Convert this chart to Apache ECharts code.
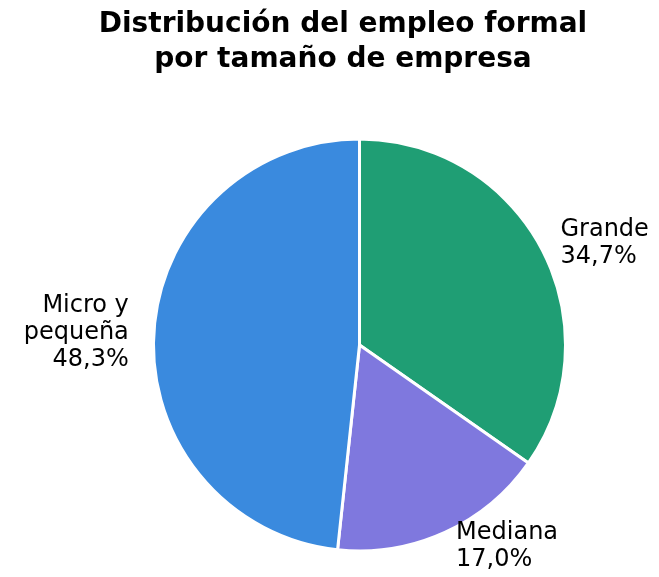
<!DOCTYPE html>
<html>
<head>
<meta charset="utf-8">
<script src="https://cdn.jsdelivr.net/npm/echarts@6/dist/echarts.min.js"></script>
<style>
html,body{margin:0;padding:0;background:#fff;}
#chart{width:659px;height:577px;}
</style>
</head>
<body>
<div id="chart"></div>
<script>
const titleText = 'Distribución del empleo formal\npor tamaño de empresa';
const categories = ['Grande', 'Mediana', 'Micro y\npequeña'];
const values = [34.7, 17.0, 48.3];
const colors = ['#1f9e74', '#7f78de', '#3a8ade'];

const chart = echarts.init(document.getElementById('chart'), null, {renderer: 'canvas'});
const fmt = v => v.toFixed(1).replace('.', ',') + '%';
chart.setOption({
  backgroundColor: '#ffffff',
  animation: false,
  title: {
    text: titleText,
    left: 343,
    top: 7,
    textAlign: 'center',
    padding: 0,
    textStyle: {
      fontFamily: 'DejaVu Sans',
      fontWeight: 'bold',
      fontSize: 28,
      lineHeight: 35,
      color: '#000'
    }
  },
  series: [{
    type: 'pie',
    center: [359.5, 345],
    radius: 206,
    startAngle: 90,
    clockwise: true,
    avoidLabelOverlap: false,
    data: categories.map((c, i) => ({
      name: c, value: values[i], itemStyle: {color: colors[i]},
      labelLine: {length: i === 2 ? 20 : 15}
    })),
    itemStyle: {borderColor: '#ffffff', borderWidth: 3},
    label: {
      show: true,
      position: 'outside',
      formatter: p => p.name + '\n' + fmt(values[p.dataIndex]),
      fontFamily: 'DejaVu Sans',
      fontSize: 24,
      lineHeight: 27,
      color: '#000'
    },
    labelLine: {show: false, length: 15, length2: 0},
    emphasis: {disabled: true}
  }]
});
</script>
</body>
</html>
